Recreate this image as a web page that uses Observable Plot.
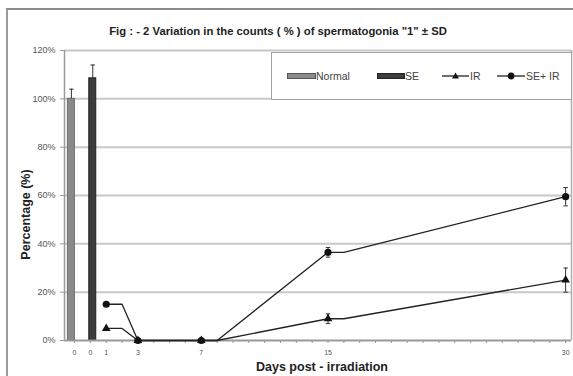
<!DOCTYPE html>
<html>
<head>
<meta charset="utf-8">
<script src="https://cdn.jsdelivr.net/npm/d3@7"></script>
<script src="https://cdn.jsdelivr.net/npm/@observablehq/plot@0.6"></script>
<style>
  html, body { margin: 0; padding: 0; background: #fff; overflow: hidden; }
  #wrap { position: relative; width: 573px; height: 376px; font-family: "Liberation Sans", Arial, sans-serif; }
  #frame { position: absolute; left: 6px; top: 8px; width: 620px; height: 420px; border-left: 2px solid #9a9a9a; border-top: 2px solid #8a8a8a; pointer-events: none; }
  #legend { position: absolute; left: 271px; top: 52px; width: 299px; height: 46px; border: 1px solid #a0a0a0; background: #fff; }
  #legend span { position: absolute; top: 17px; line-height: 12px; font-size: 10.5px; color: #444; }
</style>
</head>
<body>
<div id="wrap">
  <div id="chart"></div>
  <div id="legend"></div>
  <div id="frame"></div>
</div>
<script>
// ---- data ----
const barGroups = ["Normal", "SE"];
const barDays = [-1.2, 0.15];
const barValues = [100, 108.5];
const barSD = [4, 5.5];

const markerDays = [1, 3, 7, 15, 30];
const irValues = [5, 0, 0, 9, 25];
const irSD = [0, 0, 0, 2, 5];
const seirValues = [15, 0, 0, 36.5, 59.5];
const seirSD = [0, 0, 0, 2, 3.8];

// vertices of the drawn connector lines
const lineDays = [1, 2, 3, 7, 8, 15, 16, 30];
const irLine = [5, 5, 0, 0, 0, 9, 9, 25];
const seirLine = [15, 15, 0, 0, 0, 36.5, 36.5, 59.5];

const tickDays = [-1, 0, 1, 3, 7, 15, 30];
const tickLabels = ["0", "0", "1", "3", "7", "15", "30"];
const allDays = d3.range(-1, 31);
const yTicks = [0, 20, 40, 60, 80, 100, 120];

const titleText = "Fig : - 2 Variation in the counts ( % ) of spermatogonia \"1\" \u00B1 SD";
const xTitle = "Days post - irradiation";
const yTitle = "Percentage (%)";

const xDomain = [-1.635, 30.37];
const barHalf = 0.22;
const capHalf = 0.14;

const bars = barGroups.map((g, i) => ({g, day: barDays[i], v: barValues[i], sd: barSD[i]}));
const irPts = markerDays.map((d, i) => ({day: d, v: irValues[i], sd: irSD[i]}));
const seirPts = markerDays.map((d, i) => ({day: d, v: seirValues[i], sd: seirSD[i]}));
const irL = lineDays.map((d, i) => ({day: d, v: irLine[i]}));
const seirL = lineDays.map((d, i) => ({day: d, v: seirLine[i]}));
const errPts = [...irPts, ...seirPts].filter(d => d.sd > 0);
const labelOf = new Map(tickDays.map((d, i) => [d, tickLabels[i]]));

const lineColor = "#222";

const chart = Plot.plot({
  width: 573,
  height: 376,
  marginLeft: 64,
  marginRight: 2,
  marginTop: 50,
  marginBottom: 36,
  style: {fontFamily: "Liberation Sans, Arial, sans-serif", background: "#fff"},
  x: {domain: xDomain, axis: null},
  y: {domain: [0, 120], axis: null},
  marks: [
    Plot.ruleY(yTicks.filter(d => d > 0), {stroke: "#c8c8c8", strokeWidth: 2}),
    Plot.ruleX([xDomain[1]], {stroke: "#b0b0b0", strokeWidth: 1.5}),
    // bars
    Plot.rectY(bars, {
      x1: d => d.day - barHalf, x2: d => d.day + barHalf, y: "v",
      fill: d => d.g === "Normal" ? "#8a8a8a" : "#3c3c3c",
      stroke: d => d.g === "Normal" ? "#6a6a6a" : "#222", strokeWidth: 1
    }),
    Plot.ruleX(bars, {x: "day", y1: "v", y2: d => d.v + d.sd, stroke: "#333", strokeWidth: 1}),
    Plot.link(bars, {x1: d => d.day - capHalf, x2: d => d.day + capHalf, y1: d => d.v + d.sd, y2: d => d.v + d.sd, stroke: "#333", strokeWidth: 1}),
    // axes
    Plot.ruleY([0], {stroke: "#9a9a9a", strokeWidth: 2}),
    Plot.ruleX([xDomain[0]], {stroke: "#9a9a9a", strokeWidth: 1.5}),
    Plot.axisY({ticks: yTicks, tickFormat: d => d + "%", tickSize: 4, tickPadding: 5, fontSize: 9, color: "#555", stroke: "#999", label: null}),
    Plot.axisX({ticks: allDays, tickFormat: d => labelOf.get(d) ?? "", tickSize: 3, tickPadding: 7, fontSize: 7, color: "#555", stroke: "#999", label: null}),
    // lines
    Plot.line(irL, {x: "day", y: "v", stroke: lineColor, strokeWidth: 1.3}),
    Plot.line(seirL, {x: "day", y: "v", stroke: lineColor, strokeWidth: 1.3}),
    Plot.ruleX(errPts, {x: "day", y1: d => d.v - d.sd, y2: d => d.v + d.sd, stroke: "#333", strokeWidth: 1}),
    Plot.link(errPts, {x1: d => d.day - capHalf, x2: d => d.day + capHalf, y1: d => d.v + d.sd, y2: d => d.v + d.sd, stroke: "#333", strokeWidth: 1}),
    Plot.link(errPts, {x1: d => d.day - capHalf, x2: d => d.day + capHalf, y1: d => d.v - d.sd, y2: d => d.v - d.sd, stroke: "#333", strokeWidth: 1}),
    Plot.dot(irPts, {x: "day", y: "v", symbol: "triangle", r: 3.2, fill: "#111"}),
    Plot.dot(seirPts, {x: "day", y: "v", r: 3.6, fill: "#111"}),
    // titles
    Plot.text([titleText], {frameAnchor: "top", textAnchor: "middle", dx: -40, dy: -24, fontSize: 11.3, fontWeight: "bold", fill: "#222"}),
    Plot.text([xTitle], {frameAnchor: "bottom", textAnchor: "middle", dx: 4, dy: 30, fontSize: 12.5, fontWeight: "bold", fill: "#222"}),
    Plot.text([yTitle], {frameAnchor: "left", textAnchor: "middle", dx: -39, dy: 19, rotate: -90, fontSize: 12.5, fontWeight: "bold", fill: "#222"})
  ]
});
document.getElementById("chart").appendChild(chart);

// legend
const legend = document.getElementById("legend");
const ns = "http://www.w3.org/2000/svg";
const lsvg = document.createElementNS(ns, "svg");
lsvg.setAttribute("width", 299); lsvg.setAttribute("height", 46);
lsvg.style.position = "absolute"; lsvg.style.left = "0"; lsvg.style.top = "0";
lsvg.innerHTML = `
  <rect x="15.5" y="20.5" width="28" height="5" fill="#8a8a8a" stroke="#555"/>
  <rect x="105.5" y="20.5" width="27" height="5" fill="#3c3c3c" stroke="#222"/>
  <line x1="170" x2="197" y1="23" y2="23" stroke="${lineColor}" stroke-width="1.3"/>
  <path d="M183.5,19.5 L187,25.5 L180,25.5 Z" fill="#111"/>
  <line x1="225" x2="253" y1="23" y2="23" stroke="${lineColor}" stroke-width="1.3"/>
  <circle cx="239" cy="23" r="3.4" fill="#111"/>`;
legend.appendChild(lsvg);
const items = [["Normal", 44], ["SE", 133], ["IR", 198], ["SE+ IR", 254]];
for (const [t, x] of items) {
  const s = document.createElement("span");
  s.textContent = t; s.style.left = x + "px";
  legend.appendChild(s);
}
</script>
</body>
</html>
